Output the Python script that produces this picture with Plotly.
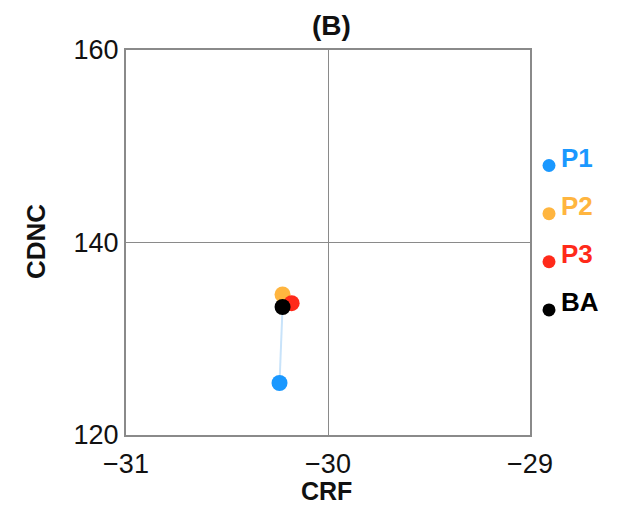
import plotly.graph_objects as go

names = ["P1", "P2", "P3", "BA"]
crf = [-30.24, -30.225, -30.18, -30.225]
cdnc = [125.4, 134.6, 133.7, 133.3]
colors = ["#1a98ff", "#ffb53f", "#ff2a1a", "#000000"]
line_colors = ["#c8e3fa", "#fde9c6", "#fccbc6"]
x_ticks = [-31, -30, -29]
y_ticks = [120, 140, 160]

FONT = "Liberation Sans, Arial, Helvetica, sans-serif"
fig = go.Figure()

ba = names.index("BA")
# connecting lines from BA to each perturbation
for i in range(3):
    fig.add_trace(go.Scatter(x=[crf[ba], crf[i]], y=[cdnc[ba], cdnc[i]], mode="lines",
                             line=dict(color=line_colors[i], width=2), showlegend=False,
                             hoverinfo="skip"))
# points
for i in range(4):
    fig.add_trace(go.Scatter(x=[crf[i]], y=[cdnc[i]], mode="markers",
                             marker=dict(color=colors[i], size=16, line=dict(width=0)),
                             showlegend=False, name=names[i]))

# custom legend to the right of the plot (own hidden axes, pixel units in x)
leg_x = 19
leg_y0, leg_dy = 148, 5
for i in range(4):
    ly = leg_y0 - i * leg_dy
    fig.add_trace(go.Scatter(x=[leg_x], y=[ly], mode="markers", xaxis="x2", yaxis="y2",
                             marker=dict(color=colors[i], size=13, line=dict(width=0)),
                             showlegend=False, hoverinfo="skip"))
    fig.add_annotation(x=leg_x, y=ly, xref="x2", yref="y2", text="<b>%s</b>" % names[i],
                       showarrow=False, xanchor="left", yanchor="middle", xshift=10, yshift=8,
                       font=dict(family=FONT, size=26, color=colors[i]))

W, H = 621, 508
L, R, T, B = 126, 530, 50, 435
dom_end = (R - L) / (W - L)


def px(xp):
    return (xp - L) / (W - L)


def py(yp):
    return (B - yp) / (B - T)


# axis titles and panel title placed as paper annotations
fig.add_annotation(x=px(326), y=py(491), xref="paper", yref="paper", text="<b>CRF</b>",
                   showarrow=False, xanchor="center", yanchor="middle",
                   font=dict(family=FONT, size=25, color="#111"))
fig.add_annotation(x=px(36), y=py(242), xref="paper", yref="paper", text="<b>CDNC</b>",
                   showarrow=False, xanchor="center", yanchor="middle", textangle=-90,
                   font=dict(family=FONT, size=26, color="#111"))
fig.add_annotation(x=px(331), y=py(25), xref="paper", yref="paper", text="<b>(B)</b>",
                   showarrow=False, xanchor="center", yanchor="middle",
                   font=dict(family=FONT, size=28, color="#111"))

fig.update_layout(
    width=W, height=H,
    margin=dict(l=L, r=0, t=T, b=H - B, autoexpand=False),
    paper_bgcolor="white", plot_bgcolor="white",
    font=dict(family=FONT, size=26, color="#111"),
    xaxis=dict(domain=[0, dom_end], range=[-31, -29], tickvals=x_ticks,
               ticktext=["\u2212" + str(abs(v)) for v in x_ticks],
               showgrid=True, gridcolor="#8a8a8a", gridwidth=1,
               showline=True, linecolor="#8a8a8a", linewidth=2, mirror=True,
               zeroline=False, ticks="", ticklabelstandoff=4, automargin=False,
               tickfont=dict(family=FONT, size=27, color="#111")),
    yaxis=dict(range=[120, 160], tickvals=y_ticks,
               showgrid=True, gridcolor="#8a8a8a", gridwidth=1,
               showline=True, linecolor="#8a8a8a", linewidth=2, mirror=True,
               zeroline=False, ticks="", automargin=False,
               tickfont=dict(family=FONT, size=27, color="#111")),
    xaxis2=dict(domain=[dom_end, 1], range=[0, W - R], visible=False, anchor="y2"),
    yaxis2=dict(range=[120, 160], visible=False, anchor="x2"),
)

fig.write_html("out.html")
